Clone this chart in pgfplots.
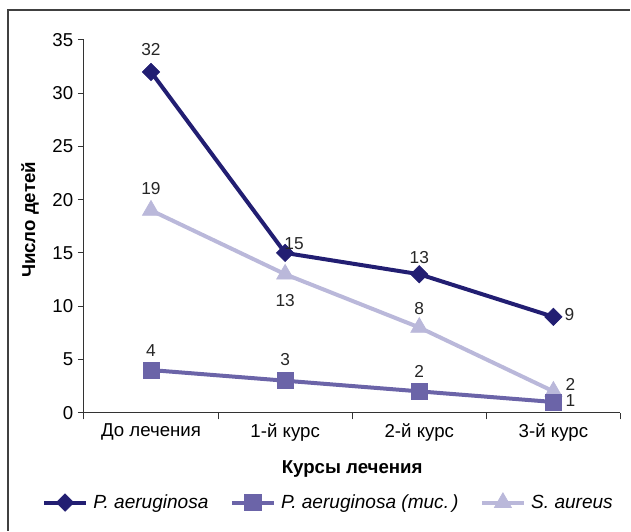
\documentclass[border=0pt]{standalone}
\usepackage{fontspec}
\setmainfont{Liberation Sans}
\usepackage{pgfplots}
\pgfplotsset{compat=1.18}
\usepackage{pgfplotstable}

\definecolor{cDark}{HTML}{221E72}
\definecolor{cMid}{HTML}{6B64A8}
\definecolor{cLight}{HTML}{BAB8DA}

% x y label and label offset (px)
\pgfplotstableread{
x y lab dx dy
0 32 32 0 22
1 15 15 9 9
2 13 13 0 17
3 9 9 16 2
}\paer
\pgfplotstableread{
x y lab dx dy
0 4 4 0 20
1 3 3 0 21
2 2 2 0 20
3 1 1 17 1
}\pmuc
\pgfplotstableread{
x y lab dx dy
0 19 19 0 22
1 13 13 0 -26
2 8 8 0 19
3 2 2 17 7
}\saur

\begin{document}
\begin{tikzpicture}
\path (0,0) rectangle (473.25pt,398.25pt);
\draw[black!75, line width=0.8pt] (6pt,0) -- (6pt,390.75pt) -- (473.25pt,390.75pt);
\begin{axis}[
  at={(63pt,88.5pt)}, anchor=south west, scale only axis,
  width=402.75pt, height=279.75pt,
  xmin=-0.5, xmax=3.5, ymin=0, ymax=35,
  axis x line*=bottom, axis y line*=left,
  xtick={0,1,2,3},
  xticklabels={До лечения,1-й курс,2-й курс,3-й курс},
  minor xtick={-0.5,0.5,1.5,2.5,3.5},
  ytick={0,5,...,35},
  tick align=outside,
  major tick length=4.5pt, minor tick length=5pt,
  major x tick style={draw=none},
  tick style={black!80, line width=0.8pt},
  axis line style={black!80, line width=0.8pt},
  tick label style={font=\fontsize{14}{16}\selectfont},
  label style={font=\bfseries\fontsize{14}{16}\selectfont},
  /pgf/number format/assume math mode=true,
  xlabel={Курсы лечения}, ylabel={Число детей},
  xlabel style={at={(axis description cs:0.5,-0.150)}, anchor=center},
  ylabel style={at={(axis description cs:-0.1006,0.517)}, anchor=center},
  clip=false,
  legend columns=3, reverse legend,
  legend style={at={(-0.0785,-0.2413)}, anchor=west, draw=none, fill=none,
    inner sep=0pt, font=\itshape\fontsize{14.3}{16}\selectfont,
    /tikz/every even column/.append style={column sep=14pt},
    /tikz/every odd column/.append style={column sep=2pt},
    cells={anchor=west}},
  legend image code/.code={\draw[mark repeat=2, mark phase=2, #1]
    plot coordinates {(0pt,0pt) (15.75pt,0pt) (31.5pt,0pt)};},
  nodes near coords, point meta=explicit symbolic,
  visualization depends on={\thisrow{dx}\as\dx},
  visualization depends on={\thisrow{dy}\as\dy},
  every node near coord/.append style={anchor=center, xshift=\dx*0.75pt,
    yshift=\dy*0.75pt, font=\fontsize{13}{15}\selectfont, text=black!85, inner sep=0pt},
]
\addplot[cLight, line width=3pt, mark=triangle*, mark size=7.4pt,
  mark options={solid, line width=0.5pt}] table[x=x, y=y, meta=lab] {\saur};
\addplot[cMid, line width=3pt, mark=square*, mark size=6.1pt,
  mark options={solid, line width=0.5pt}] table[x=x, y=y, meta=lab] {\pmuc};
\addplot[cDark, line width=3pt, mark=square*, mark size=4.6pt,
  mark options={solid, line width=0.5pt, rotate=45}] table[x=x, y=y, meta=lab] {\paer};
\legend{S. aureus, P. aeruginosa (muc.\,), P. aeruginosa}
\end{axis}
\end{tikzpicture}
\end{document}
